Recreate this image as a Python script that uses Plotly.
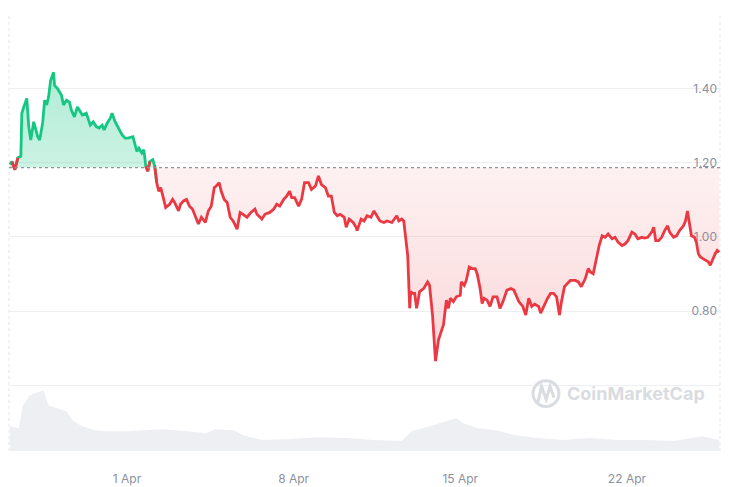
import numpy as np
import pandas as pd
import plotly.graph_objects as go

# ---------------- data ----------------
START = pd.Timestamp("2024-03-27 00:00")

hours = [2, 4, 7, 10, 13, 14, 16, 19, 21, 23, 26, 27, 30, 32, 35, 37, 39, 41, 43, 46,
         47, 50, 52, 54, 56, 59, 62, 64, 67, 70, 73, 75, 79, 81, 83, 86, 89, 92, 95, 97,
         100, 103, 105, 108, 111, 115, 118, 121, 126, 128, 130, 132, 135, 137, 139, 141, 143, 146, 148, 150,
         152, 154, 157, 159, 163, 166, 168, 172, 174, 177, 180, 183, 186, 189, 192, 195, 199, 202, 205, 208,
         210, 213, 215, 218, 221, 224, 227, 231, 234, 237, 241, 245, 249, 251, 256, 259, 264, 268, 271, 274,
         278, 281, 284, 286, 289, 293, 296, 299, 303, 306, 310, 313, 316, 320, 323, 326, 329, 332, 335, 339,
         341, 344, 348, 351, 352, 356, 359, 362, 366, 369, 372, 375, 379, 382, 387, 390, 392, 394, 397, 399,
         401, 403, 405, 406, 408, 410, 412, 415, 417, 419, 423, 425, 428, 430, 431, 434, 436, 439, 442, 444,
         446, 449, 452, 456, 457, 460, 462, 465, 468, 471, 473, 476, 478, 480, 483, 486, 489, 493, 496, 499,
         503, 507, 510, 513, 515, 519, 522, 525, 528, 531, 535, 537, 540, 544, 547, 550, 553, 556, 558, 561,
         564, 567, 572, 575, 578, 582, 585, 587, 590, 593, 596, 599, 602, 605, 609, 612, 615, 619, 622, 625,
         629, 632, 635, 639, 642, 645, 649, 651, 653, 656, 659, 662, 665, 667, 671, 674, 677, 681, 683, 685,
         687, 689, 692, 694, 696, 698, 701, 704, 706, 708, 710, 713, 715, 717]

price = [1.195, 1.203, 1.181, 1.213, 1.217, 1.333, 1.350, 1.373, 1.297, 1.261, 1.310, 1.301, 1.270, 1.261, 1.307, 1.368, 1.355, 1.377, 1.421, 1.443,
         1.408, 1.399, 1.390, 1.381, 1.355, 1.368, 1.363, 1.341, 1.323, 1.350, 1.337, 1.328, 1.333, 1.319, 1.301, 1.310, 1.297, 1.293, 1.301, 1.288,
         1.306, 1.319, 1.333, 1.310, 1.293, 1.275, 1.266, 1.266, 1.270, 1.253, 1.230, 1.239, 1.226, 1.235, 1.190, 1.177, 1.203, 1.208, 1.190, 1.146,
         1.123, 1.133, 1.101, 1.079, 1.088, 1.101, 1.093, 1.070, 1.088, 1.097, 1.101, 1.083, 1.075, 1.057, 1.035, 1.053, 1.039, 1.070, 1.083, 1.133,
         1.137, 1.146, 1.123, 1.101, 1.093, 1.053, 1.043, 1.021, 1.066, 1.061, 1.053, 1.066, 1.075, 1.061, 1.048, 1.061, 1.066, 1.075, 1.088, 1.083,
         1.101, 1.110, 1.123, 1.106, 1.106, 1.083, 1.101, 1.146, 1.146, 1.128, 1.137, 1.164, 1.141, 1.133, 1.110, 1.110, 1.066, 1.057, 1.061, 1.053,
         1.026, 1.048, 1.039, 1.026, 1.017, 1.048, 1.043, 1.057, 1.053, 1.070, 1.057, 1.043, 1.039, 1.043, 1.039, 1.048, 1.057, 1.043, 1.048, 1.043,
         0.999, 0.950, 0.808, 0.853, 0.848, 0.848, 0.808, 0.853, 0.857, 0.861, 0.879, 0.870, 0.790, 0.710, 0.666, 0.723, 0.737, 0.763, 0.830, 0.808,
         0.835, 0.826, 0.839, 0.843, 0.879, 0.870, 0.883, 0.919, 0.915, 0.915, 0.901, 0.861, 0.821, 0.835, 0.830, 0.813, 0.839, 0.839, 0.808, 0.826,
         0.857, 0.861, 0.857, 0.839, 0.826, 0.813, 0.790, 0.835, 0.813, 0.819, 0.813, 0.795, 0.813, 0.835, 0.848, 0.848, 0.839, 0.790, 0.826, 0.866,
         0.875, 0.883, 0.883, 0.879, 0.866, 0.888, 0.915, 0.906, 0.901, 0.941, 0.977, 1.003, 0.999, 1.008, 0.995, 0.999, 0.986, 0.977, 0.981, 0.990,
         1.013, 1.008, 0.995, 0.999, 0.997, 0.999, 1.013, 1.026, 0.990, 0.990, 0.999, 1.017, 1.030, 1.013, 0.999, 1.003, 1.017, 1.030, 1.043, 1.070,
         1.035, 1.003, 0.999, 0.986, 0.955, 0.946, 0.941, 0.937, 0.933, 0.924, 0.937, 0.955, 0.964, 0.959]

vol_hours = [2, 11, 15, 22, 32, 36, 41, 50, 59, 66, 75, 87, 101, 119, 138, 157, 181, 200, 209, 228,
             237, 256, 284, 313, 341, 369, 397, 407, 425, 436, 445, 452, 459, 473, 492, 511, 534, 559, 587, 615,
             643, 671, 700, 717]
volume = [50, 46, 92, 112, 120, 122, 92, 86, 80, 60, 50, 42, 40, 40, 42, 44, 40, 36, 44, 42,
          32, 22, 24, 28, 26, 22, 20, 40, 50, 56, 62, 66, 56, 46, 42, 32, 26, 22, 26, 22,
          22, 20, 30, 22]

BASE = 1.1866  # opening price (dotted reference line)
x_tick_dates = ["2024-04-01", "2024-04-08", "2024-04-15", "2024-04-22"]
y_tick_vals = [0.6, 0.8, 1.0, 1.2, 1.4, 1.6]
y_tick_text = ["", "0.80", "1.00", "1.20", "1.40", ""]

# ---------------- derived ----------------
GREEN = "#16c784"
RED = "#ea3943"
t = START + pd.to_timedelta(hours, unit="h")
tv = START + pd.to_timedelta(vol_hours, unit="h")
p = np.array(price)
above = p >= BASE
below = ~above
n = len(p)

def with_neighbours(mask):
    out = mask.copy()
    out[1:] |= mask[:-1]
    out[:-1] |= mask[1:]
    return out

g_mask = with_neighbours(above)
r_mask = with_neighbours(below)
green_line = [v if m else None for v, m in zip(price, g_mask)]
red_line = [v if m else None for v, m in zip(price, r_mask)]
base_arr = [BASE] * n

fig = go.Figure()

# volume area (secondary axis at the bottom)
fig.add_trace(go.Scatter(x=tv, y=volume, yaxis="y2", mode="lines",
                         line=dict(width=0, color="rgba(0,0,0,0)"),
                         fill="tozeroy", fillcolor="rgba(207,212,222,0.36)",
                         hoverinfo="skip", showlegend=False))

# green fill above baseline
fig.add_trace(go.Scatter(x=t, y=base_arr, mode="lines", line=dict(width=0),
                         hoverinfo="skip", showlegend=False))
fig.add_trace(go.Scatter(x=t, y=np.maximum(p, BASE), mode="lines", line=dict(width=0),
                         fill="tonexty",
                         fillgradient=dict(type="vertical",
                                           colorscale=[[0, "rgba(22,199,132,0.22)"],
                                                       [1, "rgba(22,199,132,0.34)"]]),
                         hoverinfo="skip", showlegend=False))
# red fill below baseline
fig.add_trace(go.Scatter(x=t, y=base_arr, mode="lines", line=dict(width=0),
                         hoverinfo="skip", showlegend=False))
fig.add_trace(go.Scatter(x=t, y=np.minimum(p, BASE), mode="lines", line=dict(width=0),
                         fill="tonexty",
                         fillgradient=dict(type="vertical",
                                           colorscale=[[0, "rgba(234,57,67,0.20)"],
                                                       [1, "rgba(234,57,67,0.07)"]]),
                         hoverinfo="skip", showlegend=False))

# price line
fig.add_trace(go.Scatter(x=t, y=green_line, mode="lines",
                         line=dict(color=GREEN, width=2.8, shape="linear"),
                         connectgaps=False, showlegend=False))
fig.add_trace(go.Scatter(x=t, y=red_line, mode="lines",
                         line=dict(color=RED, width=2.8, shape="linear"),
                         connectgaps=False, showlegend=False))

# baseline dotted line
fig.add_shape(type="line", xref="paper", x0=0, x1=1, yref="y", y0=BASE, y1=BASE,
              line=dict(color="#8f959e", width=1.3, dash="dot"), layer="above")
# dotted frame left / right
for xp in (0, 1):
    fig.add_shape(type="line", xref="paper", yref="paper", x0=xp, x1=xp, y0=0, y1=1,
                  line=dict(color="#e3e6ea", width=1, dash="dot"), layer="below")

# watermark
WM = "#d9dce1"
fig.add_shape(type="circle", xref="paper", yref="paper",
              x0=0.737, x1=0.7735, y0=0.102, y1=0.161,
              line=dict(color=WM, width=3), layer="above")
fig.add_shape(type="path", xref="paper", yref="paper",
              path="M 0.7440,0.112 L 0.7490,0.148 L 0.7555,0.118 L 0.7610,0.148 L 0.7665,0.122",
              line=dict(color=WM, width=3), layer="above")
fig.add_annotation(text="<b>CoinMarketCap</b>", xref="paper", yref="paper",
                   x=0.7820, y=0.1315, xanchor="left", yanchor="middle", showarrow=False,
                   font=dict(family="Inter", size=18, color=WM))

# the page body has an 8px margin, so the figure is sized/offset to compensate
fig.update_layout(
    width=722, height=479,
    margin=dict(l=1, r=10, t=6, b=32),
    paper_bgcolor="white", plot_bgcolor="white",
    showlegend=False,
    font=dict(family="Inter", size=12, color="#8a919e"),
    xaxis=dict(type="date",
               range=[START + pd.Timedelta(hours=1.07), START + pd.Timedelta(hours=717.8)],
               tickvals=pd.to_datetime(x_tick_dates), tickformat="%-d %b",
               showgrid=False, zeroline=False, showline=False,
               ticks="outside", ticklen=17, tickcolor="rgba(0,0,0,0)",
               tickfont=dict(size=12, color="#8a919e")),
    yaxis=dict(range=[0.424, 1.60], side="right", tickvals=y_tick_vals, ticktext=y_tick_text,
               ticklabelposition="inside", showgrid=True, gridcolor="#eceef1", gridwidth=1,
               zeroline=False, showline=False, layer="below traces",
               tickfont=dict(size=12, color="#8a919e")),
    yaxis2=dict(range=[0, 882], overlaying="y", showgrid=False, showticklabels=False,
                zeroline=False, showline=False),
)

fig.write_html("out.html")
